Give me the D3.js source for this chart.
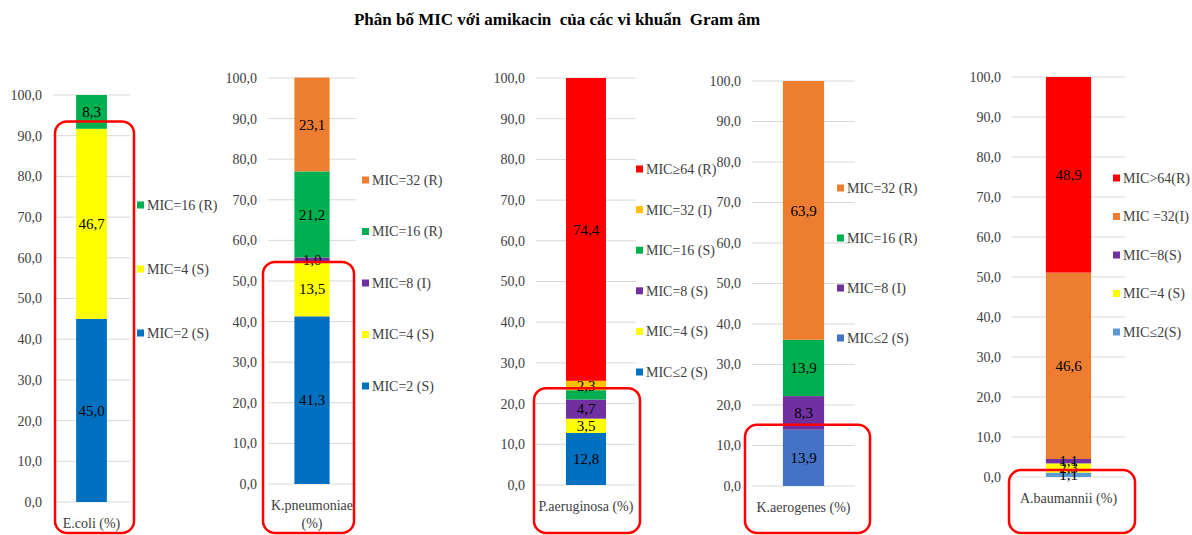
<!DOCTYPE html>
<html>
<head>
<meta charset="utf-8">
<script src="https://cdn.jsdelivr.net/npm/d3@7"></script>
<style>
  body { margin: 0; background: #fff; }
  svg, svg text { font-family: "Liberation Serif", "Times New Roman", serif !important; }
</style>
</head>
<body>
<script>
const title = "Phân bố MIC với amikacin\u00a0 của các vi khuẩn\u00a0 Gram âm";

const categories = ["E.coli (%)", "K.pneumoniae (%)", "P.aeruginosa (%)", "K.aerogenes (%)", "A.baumannii (%)"];
const yTicks = [0, 10, 20, 30, 40, 50, 60, 70, 80, 90, 100];

// series per organism, bottom of the stack first
const ecoliKeys = ["MIC=2 (S)", "MIC=4 (S)", "MIC=16 (R)"];
const ecoliValues = [45.0, 46.7, 8.3];

const kpneuKeys = ["MIC=2 (S)", "MIC=4 (S)", "MIC=8 (I)", "MIC=16 (R)", "MIC=32 (R)"];
const kpneuValues = [41.3, 13.5, 1.0, 21.2, 23.1];

const paerKeys = ["MIC≤2 (S)", "MIC=4 (S)", "MIC=8 (S)", "MIC=16 (S)", "MIC=32 (I)", "MIC≥64 (R)"];
const paerValues = [12.8, 3.5, 4.7, 2.3, 2.3, 74.4];

const kaerKeys = ["MIC≤2 (S)", "MIC=8 (I)", "MIC=16 (R)", "MIC=32 (R)"];
const kaerValues = [13.9, 8.3, 13.9, 63.9];

const abauKeys = ["MIC≤2(S)", "MIC=4 (S)", "MIC=8(S)", "MIC =32(I)", "MIC>64(R)"];
const abauValues = [1.1, 2.3, 1.1, 46.6, 48.9];

// colours, same order as the keys
const ecoliColors = ["#0070C0", "#FFFF00", "#00B050"];
const kpneuColors = ["#0070C0", "#FFFF00", "#7030A0", "#00B050", "#ED7D31"];
const paerColors = ["#0070C0", "#FFFF00", "#7030A0", "#00B050", "#FFC000", "#FF0000"];
const kaerColors = ["#4472C4", "#7030A0", "#00B050", "#ED7D31"];
const abauColors = ["#5B9BD5", "#FFFF00", "#7030A0", "#ED7D31", "#FF0000"];

// where each little chart sits on the page
const layout = [
  {x0: 53, x1: 130, top: 95, bottom: 502, legX: 137, legY: 205, legStep: 64, box: [55, 134, 93.5], hide: []},
  {x0: 268, x1: 356, top: 78, bottom: 484, legX: 362, legY: 180, legStep: 51.5, box: [263, 354, 54.7], hide: []},
  {x0: 536, x1: 636, top: 78, bottom: 485, legX: 636, legY: 169, legStep: 40.6, box: [534, 640, 23.8], hide: [3]},
  {x0: 752, x1: 855, top: 81, bottom: 486, legX: 837, legY: 188, legStep: 50, box: [745, 870, 15.1], hide: []},
  {x0: 1012, x1: 1125, top: 77, bottom: 477, legX: 1113, legY: 178, legStep: 38.5, box: [1009, 1135, 1.75], hide: []}
];

const series = [
  [ecoliKeys, ecoliValues, ecoliColors],
  [kpneuKeys, kpneuValues, kpneuColors],
  [paerKeys, paerValues, paerColors],
  [kaerKeys, kaerValues, kaerColors],
  [abauKeys, abauValues, abauColors]
];

const width = 1192, height = 535;
const fmt = d3.formatLocale({decimal: ",", thousands: ".", grouping: [3], currency: ["", ""]}).format(".1f");

const svg = d3.select("body").append("svg")
    .attr("width", width)
    .attr("height", height);

svg.append("text")
    .attr("x", 557)
    .attr("y", 25)
    .attr("text-anchor", "middle")
    .attr("font-weight", "bold")
    .attr("font-size", 17)
    .attr("fill", "#000")
    .text(title);

series.forEach(([keys, values, colors], i) => {
  const L = layout[i];
  const g = svg.append("g");

  const y = d3.scaleLinear().domain([0, 100]).range([L.bottom, L.top]);
  const x = d3.scaleBand().domain([categories[i]]).range([L.x0, L.x1]).paddingOuter(0.75).paddingInner(0);

  // gridlines
  g.append("g")
      .selectAll("line")
      .data(yTicks)
      .join("line")
      .attr("x1", L.x0).attr("x2", L.x1)
      .attr("y1", d => y(d)).attr("y2", d => y(d))
      .attr("stroke", "#d9d9d9")
      .attr("stroke-width", 1);

  // axis labels
  const axis = g.append("g")
      .attr("transform", `translate(${L.x0},0)`)
      .call(d3.axisLeft(y).tickValues(yTicks).tickFormat(fmt).tickSize(0).tickPadding(11));
  axis.select(".domain").remove();
  axis.selectAll("text")
      .attr("font-size", 14)
      .attr("fill", "#404040");

  // stacked segments
  const row = {cat: categories[i]};
  keys.forEach((k, j) => row[k] = values[j]);
  const stacked = d3.stack().keys(keys)([row]);

  g.append("g")
      .selectAll("rect")
      .data(stacked)
      .join("rect")
      .attr("x", x(categories[i]))
      .attr("width", x.bandwidth())
      .attr("y", d => y(d[0][1]))
      .attr("height", d => y(d[0][0]) - y(d[0][1]))
      .attr("fill", (d, j) => colors[j]);

  g.append("g")
      .selectAll("text")
      .data(stacked.filter((d, j) => !L.hide.includes(j)))
      .join("text")
      .attr("x", x(categories[i]) + x.bandwidth() / 2)
      .attr("y", d => y((d[0][0] + d[0][1]) / 2))
      .attr("dy", "0.35em")
      .attr("text-anchor", "middle")
      .attr("font-size", 15)
      .attr("fill", "#000")
      .text(d => fmt(d[0][1] - d[0][0]));

  // category label, wrapped when it is wider than the plot
  const cat = g.append("text")
      .attr("x", x(categories[i]) + x.bandwidth() / 2)
      .attr("y", L.bottom + 21)
      .attr("dy", "0.35em")
      .attr("text-anchor", "middle")
      .attr("font-size", 14)
      .attr("fill", "#404040")
      .text(categories[i]);
  if (cat.node().getComputedTextLength() > L.x1 - L.x0 + 8) {
    const words = categories[i].split(" ");
    cat.text(null);
    words.forEach((w, k) => {
      cat.append("tspan")
          .attr("x", x(categories[i]) + x.bandwidth() / 2)
          .attr("dy", k === 0 ? "0.35em" : "1.3em")
          .text(w);
    });
  }

  // legend, top of the stack first
  const leg = g.append("g")
      .selectAll("g")
      .data(keys.map((k, j) => ({k, c: colors[j]})).reverse())
      .join("g")
      .attr("transform", (d, j) => `translate(${L.legX},${L.legY + j * L.legStep})`);
  leg.append("rect")
      .attr("x", 0).attr("y", -3.5)
      .attr("width", 7).attr("height", 7)
      .attr("fill", d => d.c);
  leg.append("text")
      .attr("x", 10)
      .attr("dy", "0.35em")
      .attr("font-size", 14)
      .attr("fill", "#404040")
      .text(d => d.k);

  // red highlight box
  const top = y(L.box[2]);
  g.append("rect")
      .attr("x", L.box[0])
      .attr("y", top)
      .attr("width", L.box[1] - L.box[0])
      .attr("height", 533 - top)
      .attr("rx", 12)
      .attr("fill", "none")
      .attr("stroke", "#FF0000")
      .attr("stroke-width", 2.5);
});
</script>
</body>
</html>
